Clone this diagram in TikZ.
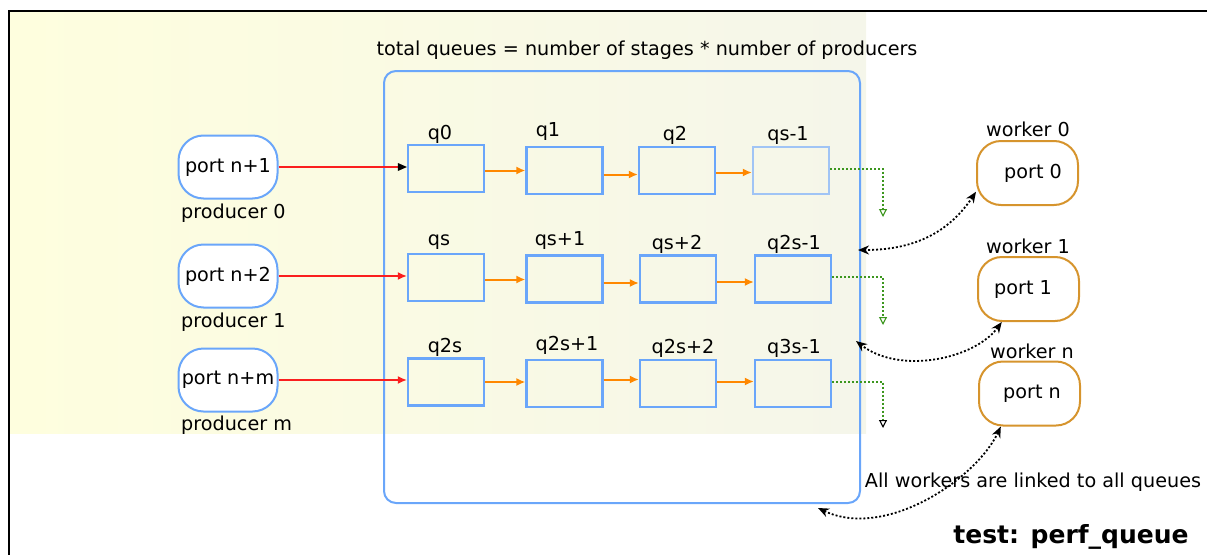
\documentclass[tikz,border=0pt]{standalone}
\usepackage{fontspec}
\setmainfont{DejaVu Sans}
\usetikzlibrary{arrows.meta}
\definecolor{cQblue}{RGB}{106,166,250}
\definecolor{cQlight}{RGB}{160,196,245}
\definecolor{cOrange}{RGB}{255,136,0}
\definecolor{cRed}{RGB}{250,30,30}
\definecolor{cGreen}{RGB}{60,150,30}
\definecolor{cWorker}{RGB}{214,148,45}
\definecolor{cBgL}{RGB}{254,254,222}
\definecolor{cBgR}{RGB}{245,246,234}
\begin{document}
\begin{tikzpicture}[x=1pt,y=-1pt,
  every node/.style={font=\fontsize{19.2}{23}\selectfont, inner sep=0pt},
  qbox/.style={draw=cQblue, line width=2.2pt, minimum width=76pt, minimum height=47pt},
  pport/.style={draw=cQblue, fill=white, line width=2pt, rectangle, rounded corners=25pt, minimum width=99pt, minimum height=63pt},
  wport/.style={draw=cWorker, fill=white, line width=2pt, rectangle, rounded corners=24pt, minimum width=101pt, minimum height=64pt},
  contbox/.style={draw=cQblue, line width=2pt, rectangle, rounded corners=12pt, minimum width=476pt, minimum height=432pt},
  oarrow/.style={draw=cOrange, line width=2pt, -{Latex[length=9pt,width=8pt,fill=cOrange]}},
  rarrow/.style={draw=cRed, line width=1.6pt, -{Latex[length=9pt,width=8pt,fill=cRed]}},
  rline/.style={draw=cRed, line width=1.8pt, shorten >=8pt},
  garrow/.style={draw=cGreen, line width=2pt, dash pattern=on 2pt off 2pt, -{Triangle[open,length=8pt,width=8pt,line width=1.1pt,sep=0pt]}},
  garrowk/.style={draw=cGreen, line width=2pt, dash pattern=on 2pt off 2pt, -{Triangle[open,length=8pt,width=8pt,line width=1.1pt,sep=0pt,color=black]}},
  darrow/.style={black, line width=1.8pt, dash pattern=on 2pt off 2pt, {Stealth[length=11pt,width=9pt]}-{Stealth[length=11pt,width=9pt]}}
]
\useasboundingbox (0,0) rectangle (1207,554);
% background
\shade[left color=cBgL, right color=cBgR] (10,12) rectangle (866,433);
\begin{scope}
\clip (0,0) rectangle (1207,554);
\draw[line width=2pt] (9,11) rectangle (1220,570);
\end{scope}

% container
\node[contbox] (cont) at (622,287) {};
\node (title) at (647,50) {total queues = number of stages * number of producers};

% producers
\node[pport] (p0) at (228,167) {port n+1};
\node[pport] (p1) at (228,276) {port n+2};
\node[pport] (p2) at (228,380) {port n+m};
\node[anchor=west] (lp0) at (181,213) {producer 0};
\node[anchor=west] (lp1) at (181,322) {producer 1};
\node[anchor=west] (lp2) at (181,425) {producer m};

% queues row 1
\node[qbox] (q0) at (446,168.5) {};
\node[qbox] (q1) at (564.5,170.5) {};
\node[qbox] (q2) at (677,170.5) {};
\node[qbox, draw=cQlight] (qs1) at (791,170.5) {};
% row 2
\node[qbox] (qs) at (446,277.5) {};
\node[qbox] (qsp1) at (564.5,279) {};
\node[qbox] (qsp2) at (678,279) {};
\node[qbox] (q2s1) at (793,279) {};
% row 3
\node[qbox] (q2s) at (446,382) {};
\node[qbox] (q2sp1) at (564.5,383.5) {};
\node[qbox] (q2sp2) at (678,383.5) {};
\node[qbox] (q3s1) at (793,383.5) {};

% queue labels
\node (lq0) at (440,134) {q0};
\node (lq1) at (548,131) {q1};
\node (lq2) at (675,135) {q2};
\node (lqs1) at (788,135) {qs-1};
\node (lqs) at (439,242) {qs};
\node (lqsp1) at (560,240) {qs+1};
\node (lqsp2) at (677,244) {qs+2};
\node (lq2s1) at (794,244) {q2s-1};
\node (lq2s) at (445,347) {q2s};
\node (lq2sp1) at (567,345) {q2s+1};
\node (lq2sp2) at (683,348) {q2s+2};
\node (lq3s1) at (794,348) {q3s-1};

% producer arrows
\draw[rline] (p0.east) -- (p0.east -| q0.west);
\fill[black] (p0.east -| q0.west) -- ++(-9,-4) -- ++(0,8) -- cycle;
\draw[rarrow] (p1.east) -- (p1.east -| qs.west);
\draw[rarrow] (p2.east) -- (p2.east -| q2s.west);

% orange arrows
\draw[oarrow] ([yshift=-2pt]q0.east) -- ([yshift=-2pt]q0.east -| q1.west);
\draw[oarrow] ([yshift=-4pt]q1.east) -- ([yshift=-4pt]q1.east -| q2.west);
\draw[oarrow] ([yshift=-2pt]q2.east) -- ([yshift=-2pt]q2.east -| qs1.west);
\draw[oarrow] ([yshift=-2pt]qs.east) -- ([yshift=-2pt]qs.east -| qsp1.west);
\draw[oarrow] ([yshift=-4pt]qsp1.east) -- ([yshift=-4pt]qsp1.east -| qsp2.west);
\draw[oarrow] ([yshift=-3pt]qsp2.east) -- ([yshift=-3pt]qsp2.east -| q2s1.west);
\draw[oarrow] (q2s.east) -- (q2s.east -| q2sp1.west);
\draw[oarrow] ([yshift=4pt]q2sp1.east) -- ([yshift=4pt]q2sp1.east -| q2sp2.west);
\draw[oarrow] ([yshift=2pt]q2sp2.east) -- ([yshift=2pt]q2sp2.east -| q3s1.west);

% green dotted outputs
\coordinate (g0) at (883,217);
\coordinate (g1) at (883,325);
\coordinate (g2) at (883,428);
\draw[garrow] ([yshift=2pt]qs1.east) -| (g0);
\draw[garrow] ([yshift=2pt]q2s1.east) -| (g1);
\draw[garrowk] ([yshift=2pt]q3s1.east) -| (g2);

% workers
\node[wport] (w0) at (1027.5,173) {\hspace*{11pt}port 0};
\node[wport] (w1) at (1028.5,289) {port 1\hspace*{11pt}};
\node[wport] (w2) at (1029.5,393.5) {\hspace*{5pt}port n};
\node (lw0) at (1028,129) {worker 0};
\node (lw1) at (1028,246) {worker 1};
\node (lw2) at (1032,351) {worker n};

% links
\coordinate (c1) at (858,250);
\coordinate (c2) at (856,341);
\coordinate (c3) at (818,508);
\draw[darrow] (w0.200) .. controls +(-30,45) and +(50,0) .. (c1);
\draw[darrow] (w1.231) .. controls +(-27,37) and +(44,34) .. (c2);
\draw[darrow] (w2.229) .. controls +(-25,53) and +(67,32) .. (c3);

\node (note) at (1033,482) {All workers are linked to all queues};
\node[font=\bfseries\fontsize{25}{30}\selectfont] (tt) at (1071,537) {test: perf\_queue};
\end{tikzpicture}
\end{document}
